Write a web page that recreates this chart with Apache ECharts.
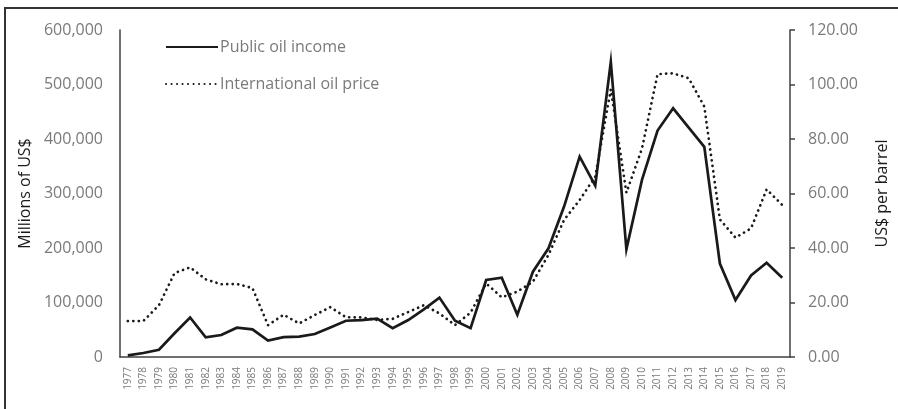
<!DOCTYPE html>
<html>
<head>
<meta charset="utf-8">
<script src="https://cdn.jsdelivr.net/npm/echarts@6/dist/echarts.min.js"></script>
<style>
html,body{margin:0;padding:0;background:#fff;}
#chart{width:898px;height:409px;}
</style>
</head>
<body>
<div id="chart"></div>
<script>
const years = ['1977','1978','1979','1980','1981','1982','1983','1984','1985','1986','1987','1988','1989','1990','1991','1992','1993','1994','1995','1996','1997','1998','1999','2000','2001','2002','2003','2004','2005','2006','2007','2008','2009','2010','2011','2012','2013','2014','2015','2016','2017','2018','2019'];
const publicOilIncome = [3100,7300,13400,43500,72500,36100,40400,53800,50800,30000,36500,37300,42200,54000,66500,67500,70300,52800,67900,87500,109000,66700,52800,141300,145500,77500,156500,199500,276000,367500,314500,541500,197500,325000,415500,456300,421000,385500,171500,104500,149500,173000,145500];
const oilPrice = [13.2,13.2,19.0,30.8,32.9,28.5,26.7,26.8,25.3,11.7,15.5,12.3,15.4,18.3,14.6,14.5,13.6,14.0,16.5,19.0,16.0,11.7,16.3,27.0,21.9,24.0,27.6,37.5,50.3,57.6,66.2,98.2,60.3,76.5,103.8,104.1,102.3,91.9,50.5,43.8,47.2,61.5,55.8];
const leftTicks = {min:0, max:600000, interval:100000};
const rightTicks = {min:0, max:120, interval:20};

const chart = echarts.init(document.getElementById('chart'), null, {renderer:'canvas'});
const labelFont = '"Open Sans", "DejaVu Sans", sans-serif';
const grayText = '#7a7a7a';
chart.setOption({
  animation:false,
  backgroundColor:'#ffffff',
  graphic:[{
    type:'rect', silent:true, z:-1,
    shape:{x:5,y:8,width:900,height:410},
    style:{fill:'none',stroke:'#333333',lineWidth:2}
  }],
  grid:{left:120,right:100,top:30,bottom:52,containLabel:false},
  legend:{
    orient:'vertical', left:160, top:34,
    itemWidth:52, itemHeight:14, itemGap:21,
    itemStyle:{opacity:0},
    textStyle:{fontFamily:labelFont,fontSize:16,color:grayText,padding:[0,0,0,-3]},
    data:['Public oil income','International oil price']
  },
  xAxis:{
    type:'category', data:years, boundaryGap:true,
    axisLine:{lineStyle:{color:'#404040',width:1.5}},
    axisTick:{show:false},
    axisLabel:{rotate:90,interval:0,fontFamily:labelFont,fontSize:10,color:grayText,margin:10}
  },
  yAxis:[{
    type:'value', min:leftTicks.min, max:leftTicks.max, interval:leftTicks.interval,
    name:'Millions of US$', nameLocation:'middle', nameGap:85, nameRotate:90,
    nameTextStyle:{fontFamily:labelFont,fontSize:16,color:'#1a1a1a'},
    axisLine:{show:true,lineStyle:{color:'#404040',width:1.5}},
    axisTick:{show:false},
    splitLine:{show:false},
    axisLabel:{fontFamily:labelFont,fontSize:16,color:grayText,margin:17,
      formatter:v=>v.toLocaleString('en-US')}
  },{
    type:'value', position:'right', min:rightTicks.min, max:rightTicks.max, interval:rightTicks.interval,
    name:'US$ per barrel', nameLocation:'middle', nameGap:84, nameRotate:90,
    nameTextStyle:{fontFamily:labelFont,fontSize:16,color:'#1a1a1a'},
    axisLine:{show:true,lineStyle:{color:'#404040',width:1.5}},
    axisTick:{show:true,length:5,lineStyle:{color:'#404040',width:1.5}},
    splitLine:{show:false},
    axisLabel:{fontFamily:labelFont,fontSize:16,color:grayText,margin:18,
      formatter:v=>v.toFixed(2)}
  }],
  series:[{
    name:'Public oil income', type:'line', yAxisIndex:0, data:publicOilIncome,
    symbol:'none', lineStyle:{color:'#1a1a1a',width:2.7,join:'miter'},
    itemStyle:{color:'#1a1a1a'}
  },{
    name:'International oil price', type:'line', yAxisIndex:1, data:oilPrice,
    symbol:'none', lineStyle:{color:'#1a1a1a',width:2.7,type:[0.1,5.4],cap:'round'},
    itemStyle:{color:'#1a1a1a'}
  }]
});
</script>
</body>
</html>
